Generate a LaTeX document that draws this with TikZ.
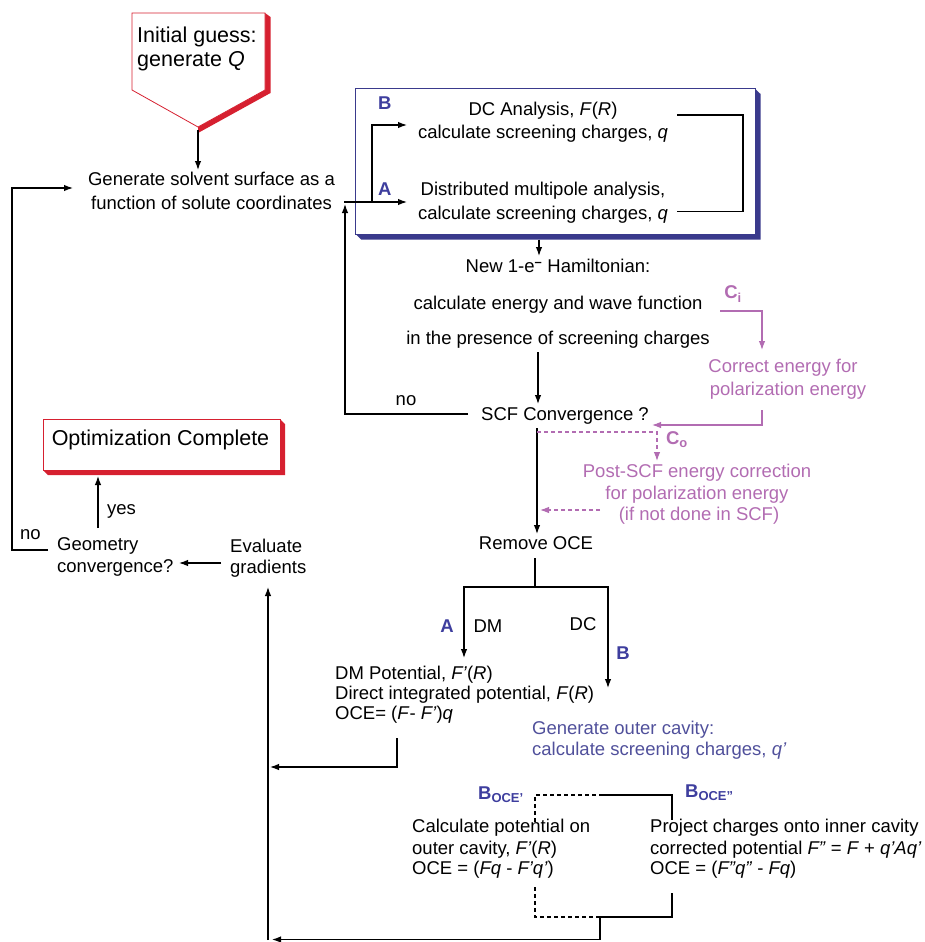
\documentclass[tikz,border=0pt]{standalone}
\usepackage{fontspec}
\setmainfont{Liberation Sans}
\usetikzlibrary{arrows.meta}
\definecolor{redc}{RGB}{214,32,48}
\definecolor{boxc}{RGB}{58,58,140}
\definecolor{labc}{RGB}{62,62,158}
\definecolor{pinkc}{RGB}{178,108,178}
\definecolor{outc}{RGB}{80,80,155}
\newcommand\fsn{\fontsize{18.5}{22}\selectfont}
\newcommand\fsl{\fontsize{21.5}{25}\selectfont}
\begin{document}
\begin{tikzpicture}[x=1pt,y=-1pt,
  ln/.style={font=\fsn, inner sep=0pt, anchor=mid},
  lnw/.style={ln, anchor=mid west},
  lab/.style={ln, font=\fsn\bfseries, text=labc},
  con/.style={draw, line width=1.2pt},
  arr/.style={con, -{Latex[length=9pt,width=6.5pt]}},
  pk/.style={draw=pinkc, line width=1.1pt},
  dsh/.style={dash pattern=on 4pt off 3pt}]
\useasboundingbox (0,0) rectangle (924,942);

% ---------- initial guess pentagon ----------
\fill[redc] (265,13) -- (270.5,17) -- (270.5,93) -- (198,133) -- (198,127) -- (265,90) -- cycle;
\draw[redc, line width=0.8pt, fill=white] (132,13) -- (265,13) -- (265,90) -- (198,127) -- (132,90) -- cycle;
\node[lnw,font=\fsl] (ig1) at (137,40) {Initial guess:};
\node[lnw,font=\fsl] (ig2) at (137,64) {generate \textit{Q}};
\coordinate (igtip) at (198,130);
\coordinate (gstop) at (198,170);
\draw[arr] (igtip) -- (gstop);

% ---------- solvent surface ----------
\node[ln] (gs1) at (211.5,183) {Generate solvent surface as a};
\node[ln] (gs2) at (211.5,207) {function of solute coordinates};

% ---------- blue box ----------
\fill[boxc] (355.6,234) -- (361,239.5) -- (760.5,239.5) -- (760.5,94) -- (755,88.6) -- (755,234) -- cycle;
\draw[boxc, line width=0.8pt, fill=white] (355.6,88.6) rectangle (755,234);
\node[lab] (lB) at (384.7,107) {B};
\node[lab] (lA) at (384.7,193) {A};
\node[ln] (dc1) at (543,113) {DC Analysis, \textit{F}(\textit{R})};
\node[ln] (dc2) at (543,136) {calculate screening charges, \textit{q}};
\node[ln] (dm1) at (543,193) {Distributed multipole analysis,};
\node[ln] (dm2) at (543,217) {calculate screening charges, \textit{q}};
\coordinate (jA) at (344,202);
\coordinate (jB) at (372,202);
\coordinate (tA) at (407,202);
\coordinate (tB) at (407,125);
\draw[arr] (jA) -- (tA);
\draw[arr] (jB) |- (tB);
\coordinate (br1) at (677,115);
\coordinate (br2) at (677,211.5);
\draw[con] (br1) -- (743,115) -- (743,211.5) -- (br2);
\coordinate (boxbot) at (539,239.5);
\coordinate (hamtop) at (539,256);
\draw[arr] (boxbot) -- (hamtop);

% ---------- Hamiltonian ----------
\node[ln] (h1) at (558,270) {New 1-e\textsuperscript{\textbf{–}} Hamiltonian:};
\node[ln] (h2) at (558,307) {calculate energy and wave function};
\node[ln] (h3) at (558,342) {in the presence of screening charges};
\coordinate (h3b) at (538,352);
\coordinate (scft) at (538,404);
\draw[arr] (h3b) -- (scft);

% ---------- SCF ----------
\node[ln] (scf) at (565,418) {SCF Convergence ?};
\node[ln] (no1) at (406,403) {no};
\coordinate (scfw) at (468,414);
\coordinate (upT) at (345,204);
\draw[arr] (scfw) -- (345,414) -- (upT);

% ---------- C_i ----------
\node[ln,font=\fsn\bfseries,text=pinkc] (ci) at (733,296) {C\textsubscript{i}};
\coordinate (ci0) at (720,311);
\coordinate (ci1) at (762,350);
\draw[pk,-{Latex[length=9pt,width=6.5pt]}] (ci0) -- (762,311) -- (ci1);
\node[ln,text=pinkc] (ce1) at (783,370) {Correct energy for};
\node[ln,text=pinkc] (ce2) at (788,393) {polarization energy};
\coordinate (ce2b) at (762,410);
\coordinate (scfe) at (652,425);
\draw[pk,-{Latex[length=9pt,width=6.5pt]}] (ce2b) -- (762,425) -- (scfe);

% ---------- main line to Remove OCE ----------
\coordinate (scfb) at (537,428);
\coordinate (rot) at (537,534);
\draw[arr] (scfb) -- (rot);
\coordinate (co0) at (537,432);
\coordinate (co1) at (657,461);
\draw[pk,dsh,-{Latex[length=9pt,width=6.5pt]}] (co0) -- (657,432) -- (co1);
\node[ln,font=\fsn\bfseries,text=pinkc] (co) at (677,442) {C\textsubscript{o}};
\node[ln,text=pinkc] (ps1) at (697,475) {Post-SCF energy correction};
\node[ln,text=pinkc] (ps2) at (697,497) {for polarization energy};
\node[ln,text=pinkc] (ps3) at (699,518) {(if not done in SCF)};
\coordinate (ps0) at (600,510);
\coordinate (ps9) at (540,510);
\draw[pk,dsh,-{Latex[length=9pt,width=6.5pt]}] (ps0) -- (ps9);

% ---------- Remove OCE and split ----------
\node[ln] (ro) at (536,547) {Remove OCE};
\coordinate (rob) at (535,558);
\coordinate (split) at (535,587);
\coordinate (dmT) at (464,658);
\coordinate (dcT) at (608,688);
\draw[con] (rob) -- (split);
\draw[arr] (split) -| (dmT);
\draw[arr] (split) -| (dcT);
\node[lab] (lA2) at (447,630) {A};
\node[ln] (dmt) at (488,630) {DM};
\node[ln] (dct) at (583,628) {DC};
\node[lab] (lB2) at (623,657) {B};

% ---------- DM branch ----------
\node[lnw] (dp1) at (335,677) {DM Potential, \textit{F'}(\textit{R})};
\node[lnw] (dp2) at (335,697) {Direct integrated potential, \textit{F}(\textit{R})};
\node[lnw] (dp3) at (335,717) {OCE= (\textit{F}- \textit{F'})\textit{q}};
\coordinate (dpb) at (397,738);
\coordinate (ret1) at (270,767);
\draw[arr] (dpb) -- (397,767) -- (ret1);
\coordinate (vbot) at (268,940);
\coordinate (evb) at (268,587);
\draw[arr] (vbot) -- (evb);

% ---------- DC branch ----------
\node[lnw,text=outc] (oc1) at (532,732) {Generate outer cavity:};
\node[lnw,text=outc] (oc2) at (532,753) {calculate screening charges, \textit{q'}};
\node[lnw,font=\fsn\bfseries,text=labc] (bo1) at (478,797) {B\textsubscript{OCE'}};
\node[lnw,font=\fsn\bfseries,text=labc] (bo2) at (685,795) {B\textsubscript{OCE''}};
\coordinate (d1) at (535,822);
\coordinate (mid1) at (600,795);
\coordinate (p1) at (672,820);
\draw[con,dsh] (d1) -- (535,795) -- (mid1);
\draw[con] (mid1) -- (672,795) -- (p1);
\node[lnw] (cp1) at (412,830) {Calculate potential on};
\node[lnw] (cp2) at (412,852) {outer cavity, \textit{F'}(\textit{R})};
\node[lnw] (cp3) at (412,872) {OCE = (\textit{Fq} - \textit{F'q'})};
\node[lnw] (pj1) at (650,830) {Project charges onto inner cavity};
\node[lnw] (pj2) at (650,852) {corrected potential \textit{F''} = \textit{F} + \textit{q'Aq'}};
\node[lnw] (pj3) at (650,872) {OCE = (\textit{F''q''} - \textit{Fq})};
\coordinate (d2) at (535,887);
\coordinate (mid2) at (600,917);
\coordinate (p2) at (672,893);
\draw[con,dsh] (d2) -- (535,917) -- (mid2);
\draw[con] (p2) -- (672,917) -- (mid2);
\coordinate (ret2) at (272,939.5);
\draw[arr] (mid2) -- (600,939.5) -- (ret2);

% ---------- geometry loop ----------
\fill[redc] (43,470) -- (48,475) -- (285,475) -- (285,424) -- (280,419) -- (280,470) -- cycle;
\draw[redc, line width=0.8pt, fill=white] (43,419) rectangle (280,470);
\node[ln,font=\fsl] (opt) at (160.5,443) {Optimization Complete};
\node[lnw] (ge1) at (57,548) {Geometry};
\node[lnw] (ge2) at (57,570) {convergence?};
\node[lnw] (ev1) at (230,550) {Evaluate};
\node[lnw] (ev2) at (230,571) {gradients};
\coordinate (evw) at (221,563);
\coordinate (gee) at (179,563);
\draw[arr] (evw) -- (gee);
\coordinate (yes0) at (98,528);
\coordinate (yes1) at (98,476);
\draw[arr] (yes0) -- (yes1);
\node[lnw] (yes) at (107,512) {yes};
\node[lnw] (no2) at (20,537) {no};
\coordinate (gew) at (48,550);
\coordinate (gsw) at (73,188);
\draw[arr] (gew) -- (12,550) -- (12,188) -- (gsw);
\end{tikzpicture}
\end{document}
